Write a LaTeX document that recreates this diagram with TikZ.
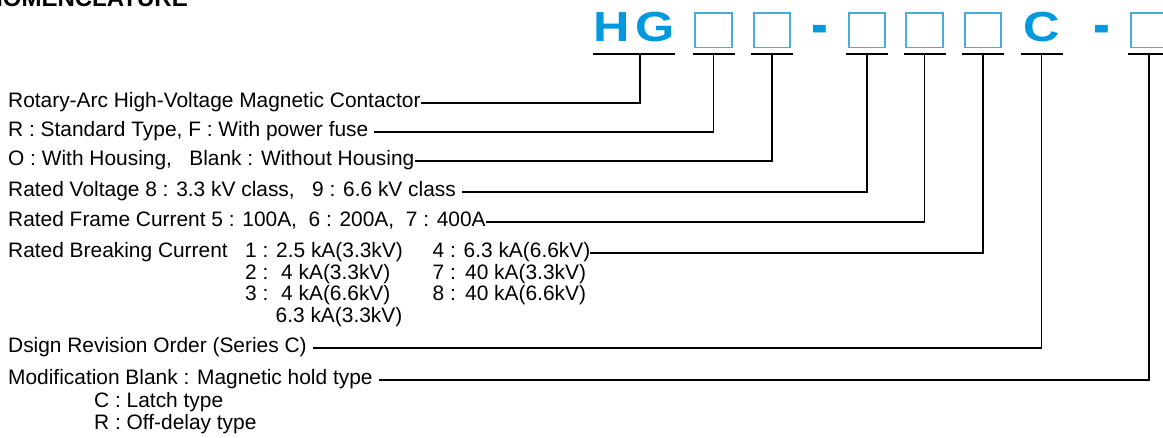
\documentclass[tikz,border=0pt]{standalone}
\usepackage{fontspec}
\setmainfont{Liberation Sans}
\newfontfamily\codefont[FakeStretch=1.2]{Liberation Sans}
\definecolor{codeblue}{RGB}{0,152,222}
\definecolor{boxblue}{RGB}{70,172,222}

\begin{document}
\begin{tikzpicture}[x=1pt, y=-1pt,
    lbl/.style={anchor=west, inner sep=0pt, text height=13pt, text depth=4.2pt, font=\fontsize{20.9}{24}\selectfont},
    slot/.style={draw=boxblue, line width=1.7pt, minimum width=36.4pt, minimum height=34.7pt, inner sep=0pt},
    code/.style={anchor=base, inner sep=0pt, text=codeblue, font=\codefont\bfseries\fontsize{42}{44}\selectfont},
    uline/.style={line width=1.8pt},
    lead/.style={line width=1.6pt}]
    \useasboundingbox (0,0) rectangle (1163,437);
    \clip (0,0) rectangle (1163,437);

    % title, cut by the top edge
    \node[anchor=base east, inner sep=0pt, font=\bfseries\fontsize{24}{28}\selectfont] (title) at (188,6.7) {NOMENCLATURE};

    % type code
    \node[code] (hg) at (634,41.7) {H\hspace{6pt}G};
    \node[slot] (s1) at (713.5,30) {};
    \node[slot] (s2) at (772,30) {};
    \node[code] (d1) at (819.5,45.6) {\scalebox{1}[1.5]{-}};
    \node[slot] (s3) at (867,30) {};
    \node[slot] (s4) at (924.5,30) {};
    \node[slot] (s5) at (983,30) {};
    \node[code] (sc) at (1041.5,41.7) {C};
    \node[code] (d2) at (1102,45.6) {\scalebox{1}[1.5]{-}};
    \node[slot] (s6) at (1149,30) {};

    \coordinate (ul) at (0,54.3);
    \foreach \n/\w in {hg/41, s1/21, s2/21, s3/21, s4/21, s5/21, sc/21, s6/21}
        \draw[uline] ([xshift=-\w pt]\n |- ul) -- ([xshift=\w pt]\n |- ul);

    % explanations
    \node[lbl] (t1) at (8,103) {Rotary-Arc High-Voltage Magnetic Contactor};
    \node[lbl] (t2) at (8,131.7) {R : Standard Type, F : With power fuse};
    \node[lbl] (t3) at (8,161) {O : With Housing,\ \ \ Blank : Without Housing};
    \node[lbl] (t4) at (8,192) {Rated Voltage 8 : 3.3 kV class,\ \ \ 9 : 6.6 kV class};
    \node[lbl] (t5) at (8,221.7) {Rated Frame Current 5 : 100A,\ \ 6 : 200A,\ \ 7 : 400A};
    \node[lbl] (t6) at (8,253) {Rated Breaking Current};
    \node[lbl] (t6a) at (245,253) {1 : 2.5 kA(3.3kV)};
    \node[lbl] (t6b) at (245,275) {\makebox[36pt][l]{2 :}4 kA(3.3kV)};
    \node[lbl] (t6c) at (245,296.5) {\makebox[36pt][l]{3 :}4 kA(6.6kV)};
    \node[lbl] (t6d) at (275.5,318) {6.3 kA(3.3kV)};
    \node[lbl] (t6e) at (432.5,253) {4 : 6.3 kA(6.6kV)};
    \node[lbl] (t6f) at (432.5,275) {\makebox[32.5pt][l]{7 :}40 kA(3.3kV)};
    \node[lbl] (t6g) at (432.5,296.5) {\makebox[32.5pt][l]{8 :}40 kA(6.6kV)};
    \node[lbl] (t7) at (8,347.7) {Dsign Revision Order (Series C)};
    \node[lbl] (t8) at (8,380) {Modification Blank : Magnetic hold type};
    \node[lbl] (t8a) at (94,403) {C : Latch type};
    \node[lbl] (t8b) at (94,425.5) {R : Off-delay type};

    % leaders
    \draw[lead] (t1.east) -| ([xshift=6pt]hg |- ul);
    \draw[lead] ([xshift=6pt]t2.east) -| (s1 |- ul);
    \draw[lead] (t3.east) -| (s2 |- ul);
    \draw[lead] ([xshift=6pt]t4.east) -| (s3 |- ul);
    \draw[lead] (t5.east) -| (s4 |- ul);
    \draw[lead] (t6e.east) -| (s5 |- ul);
    \draw[lead] ([xshift=6pt]t7.east) -| (sc |- ul);
    \draw[lead] ([xshift=6pt]t8.east) -| (s6 |- ul);
\end{tikzpicture}
\end{document}
